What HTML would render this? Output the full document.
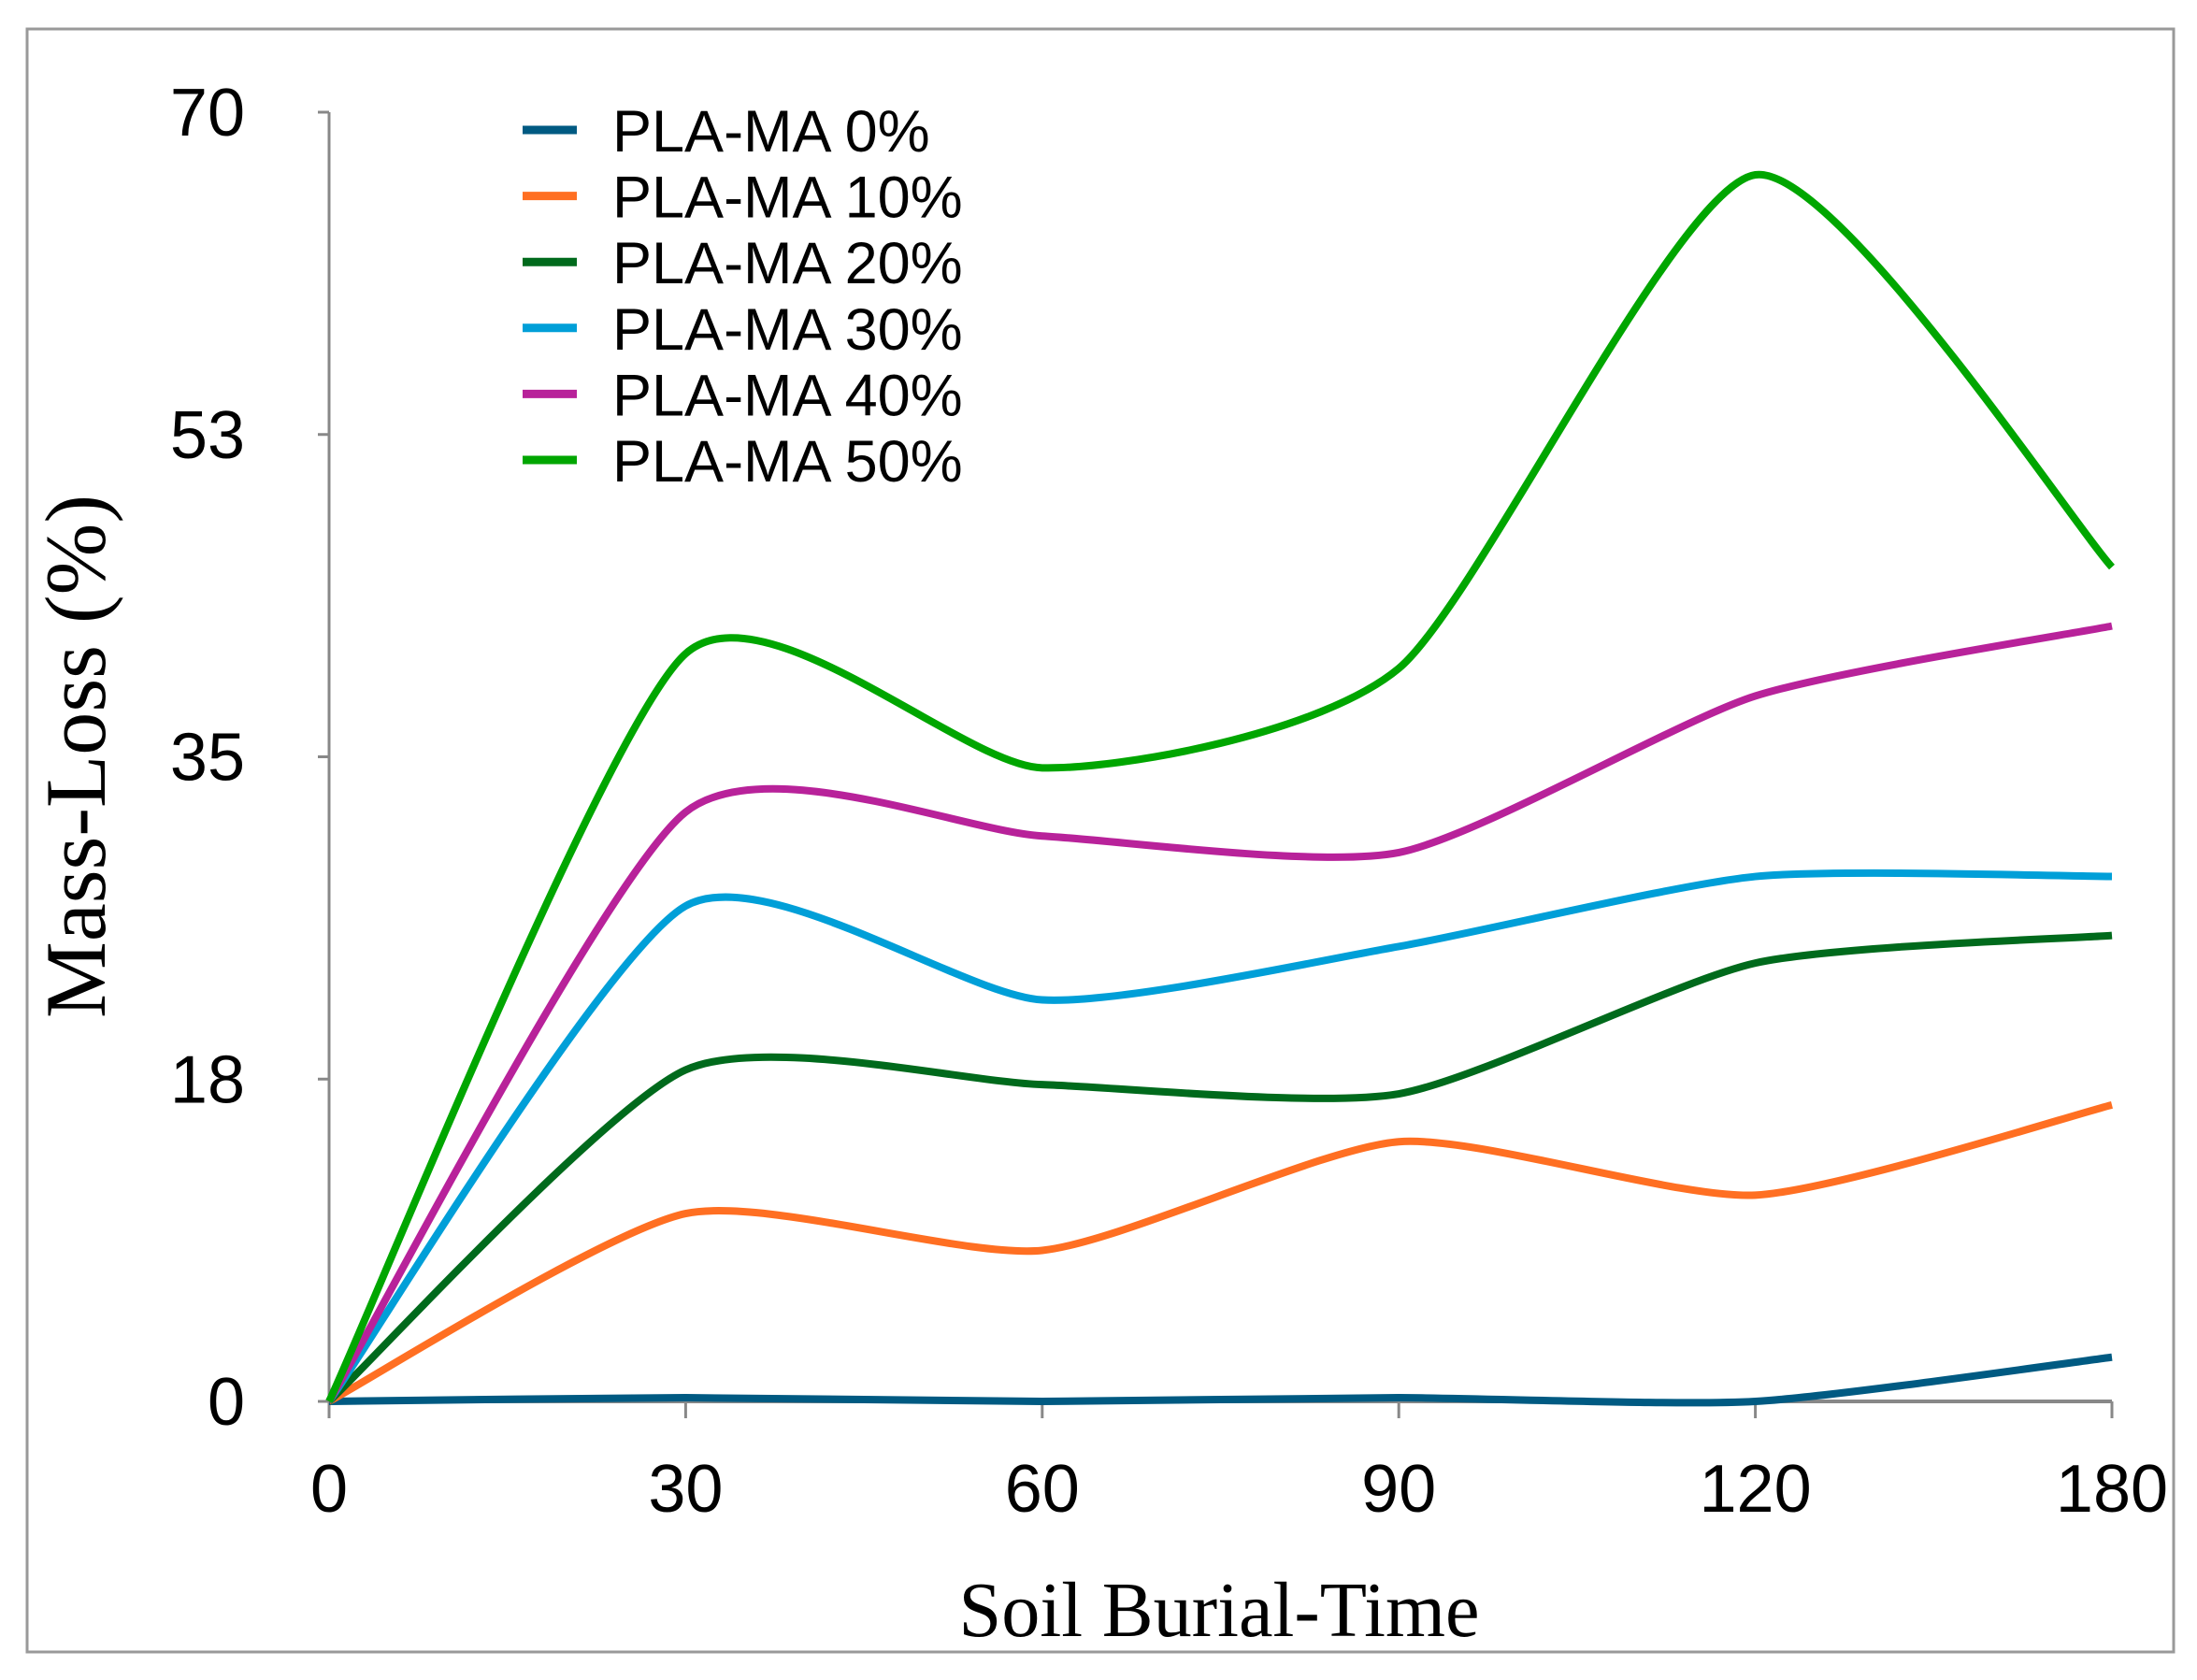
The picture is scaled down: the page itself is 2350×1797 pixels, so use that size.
<!DOCTYPE html>
<html><head><meta charset="utf-8"><style>
html,body{margin:0;padding:0;background:#fff;}
svg{display:block;}
</style></head><body>
<svg id="chart" width="2350" height="1797" viewBox="0 0 2350 1797" xmlns="http://www.w3.org/2000/svg">
<rect x="29" y="31" width="2296" height="1736" fill="#fff" stroke="#999" stroke-width="3"/>
<g id="axes"></g>
<g id="series"></g>
<g id="legend"></g>
<text transform="translate(112,809) rotate(-90)" text-anchor="middle" font-family="Liberation Serif, serif" font-size="92" textLength="560" lengthAdjust="spacingAndGlyphs">Mass-Loss (%)</text>
<text x="1304" y="1750" text-anchor="middle" font-family="Liberation Serif, serif" font-size="84" textLength="557" lengthAdjust="spacingAndGlyphs">Soil Burial-Time</text>
</svg>
<script>
const categories = ["0","30","60","90","120","180"];
const yTicks = [0,17.5,35,52.5,70];
const yTickLabels = ["0","18","35","53","70"];
const seriesNames = ["PLA-MA 0%","PLA-MA 10%","PLA-MA 20%","PLA-MA 30%","PLA-MA 40%","PLA-MA 50%"];
const seriesColors = ["#005a82","#ff6f22","#006a1c","#009fd8","#b8229a","#00a600"];
const s0 = [0,0.2,0,0.2,0,2.4];
const s10 = [0,10.2,8.2,14.1,11.2,16.1];
const s20 = [0,18.0,17.2,16.7,23.8,25.3];
const s30 = [0,26.9,21.8,24.7,28.5,28.5];
const s40 = [0,32.0,30.7,29.8,38.3,42.1];
const s50 = [0,40.6,34.4,39.8,66.6,45.3];
const allSeries = [s0,s10,s20,s30,s40,s50];

const NS="http://www.w3.org/2000/svg";
const X0=352,X1=2259,Y0=1499,Y1=120,YMAX=70;
function xs(i){return X0+(X1-X0)*i/(categories.length-1);}
function ys(v){return Y0-(Y0-Y1)*v/YMAX;}
function mk(tag,attrs,parent){const e=document.createElementNS(NS,tag);for(const k in attrs)e.setAttribute(k,attrs[k]);parent.appendChild(e);return e;}

const axes=document.getElementById('axes');
let yaxis=mk('line',{x1:X0,y1:Y1,x2:X0,y2:Y0,stroke:'#888','stroke-width':3},axes);


let xaxis=mk('line',{x1:X0,y1:Y0,x2:X1,y2:Y0,stroke:'#888','stroke-width':4},axes);


yTicks.forEach((t,i)=>{
  const y=ys(t);
  let tk=mk('line',{x1:X0-12,y1:y,x2:X0,y2:y,stroke:'#888','stroke-width':3},axes);
  
  
  let lb=mk('text',{x:262,y:y+25,'text-anchor':'end','font-family':'Liberation Sans, sans-serif','font-size':72},axes);
  lb.textContent=yTickLabels[i];
  
  
});
categories.forEach((c,i)=>{
  const x=xs(i);
  let tk=mk('line',{x1:x,y1:Y0,x2:x,y2:Y0+18,stroke:'#888','stroke-width':3},axes);
  
  
  let lb=mk('text',{x:x,y:1617,'text-anchor':'middle','font-family':'Liberation Sans, sans-serif','font-size':72},axes);
  lb.textContent=c;
  
  
});

function smoothPath(vals){
  const p=vals.map((v,i)=>[xs(i),ys(v)]);
  let d='M'+p[0][0]+','+p[0][1];
  const f=0.11;
  for(let i=0;i<p.length-1;i++){
    const a=p[Math.max(0,i-1)],b=p[i],c=p[i+1],e=p[Math.min(p.length-1,i+2)];
    const c1=[b[0]+(c[0]-a[0])*f,b[1]+(c[1]-a[1])*f];
    const c2=[c[0]-(e[0]-b[0])*f,c[1]-(e[1]-b[1])*f];
    d+=' C'+c1[0]+','+c1[1]+' '+c2[0]+','+c2[1]+' '+c[0]+','+c[1];
  }
  return d;
}
const sg=document.getElementById('series');
allSeries.forEach((vals,k)=>{
  let path=mk('path',{d:smoothPath(vals),fill:'none',stroke:seriesColors[k],'stroke-width':8,'stroke-linejoin':'round'},sg);
  
  
});

const lg=document.getElementById('legend');
seriesNames.forEach((n,k)=>{
  const y=139+k*70.6;
  let g=mk('g',{},lg);
  
  
  mk('line',{x1:559,y1:y,x2:617,y2:y,stroke:seriesColors[k],'stroke-width':9},g);
  let t=mk('text',{x:655,y:y+23,'font-family':'Liberation Sans, sans-serif','font-size':63},g);
  t.textContent=n;
});
</script>
</body></html>
